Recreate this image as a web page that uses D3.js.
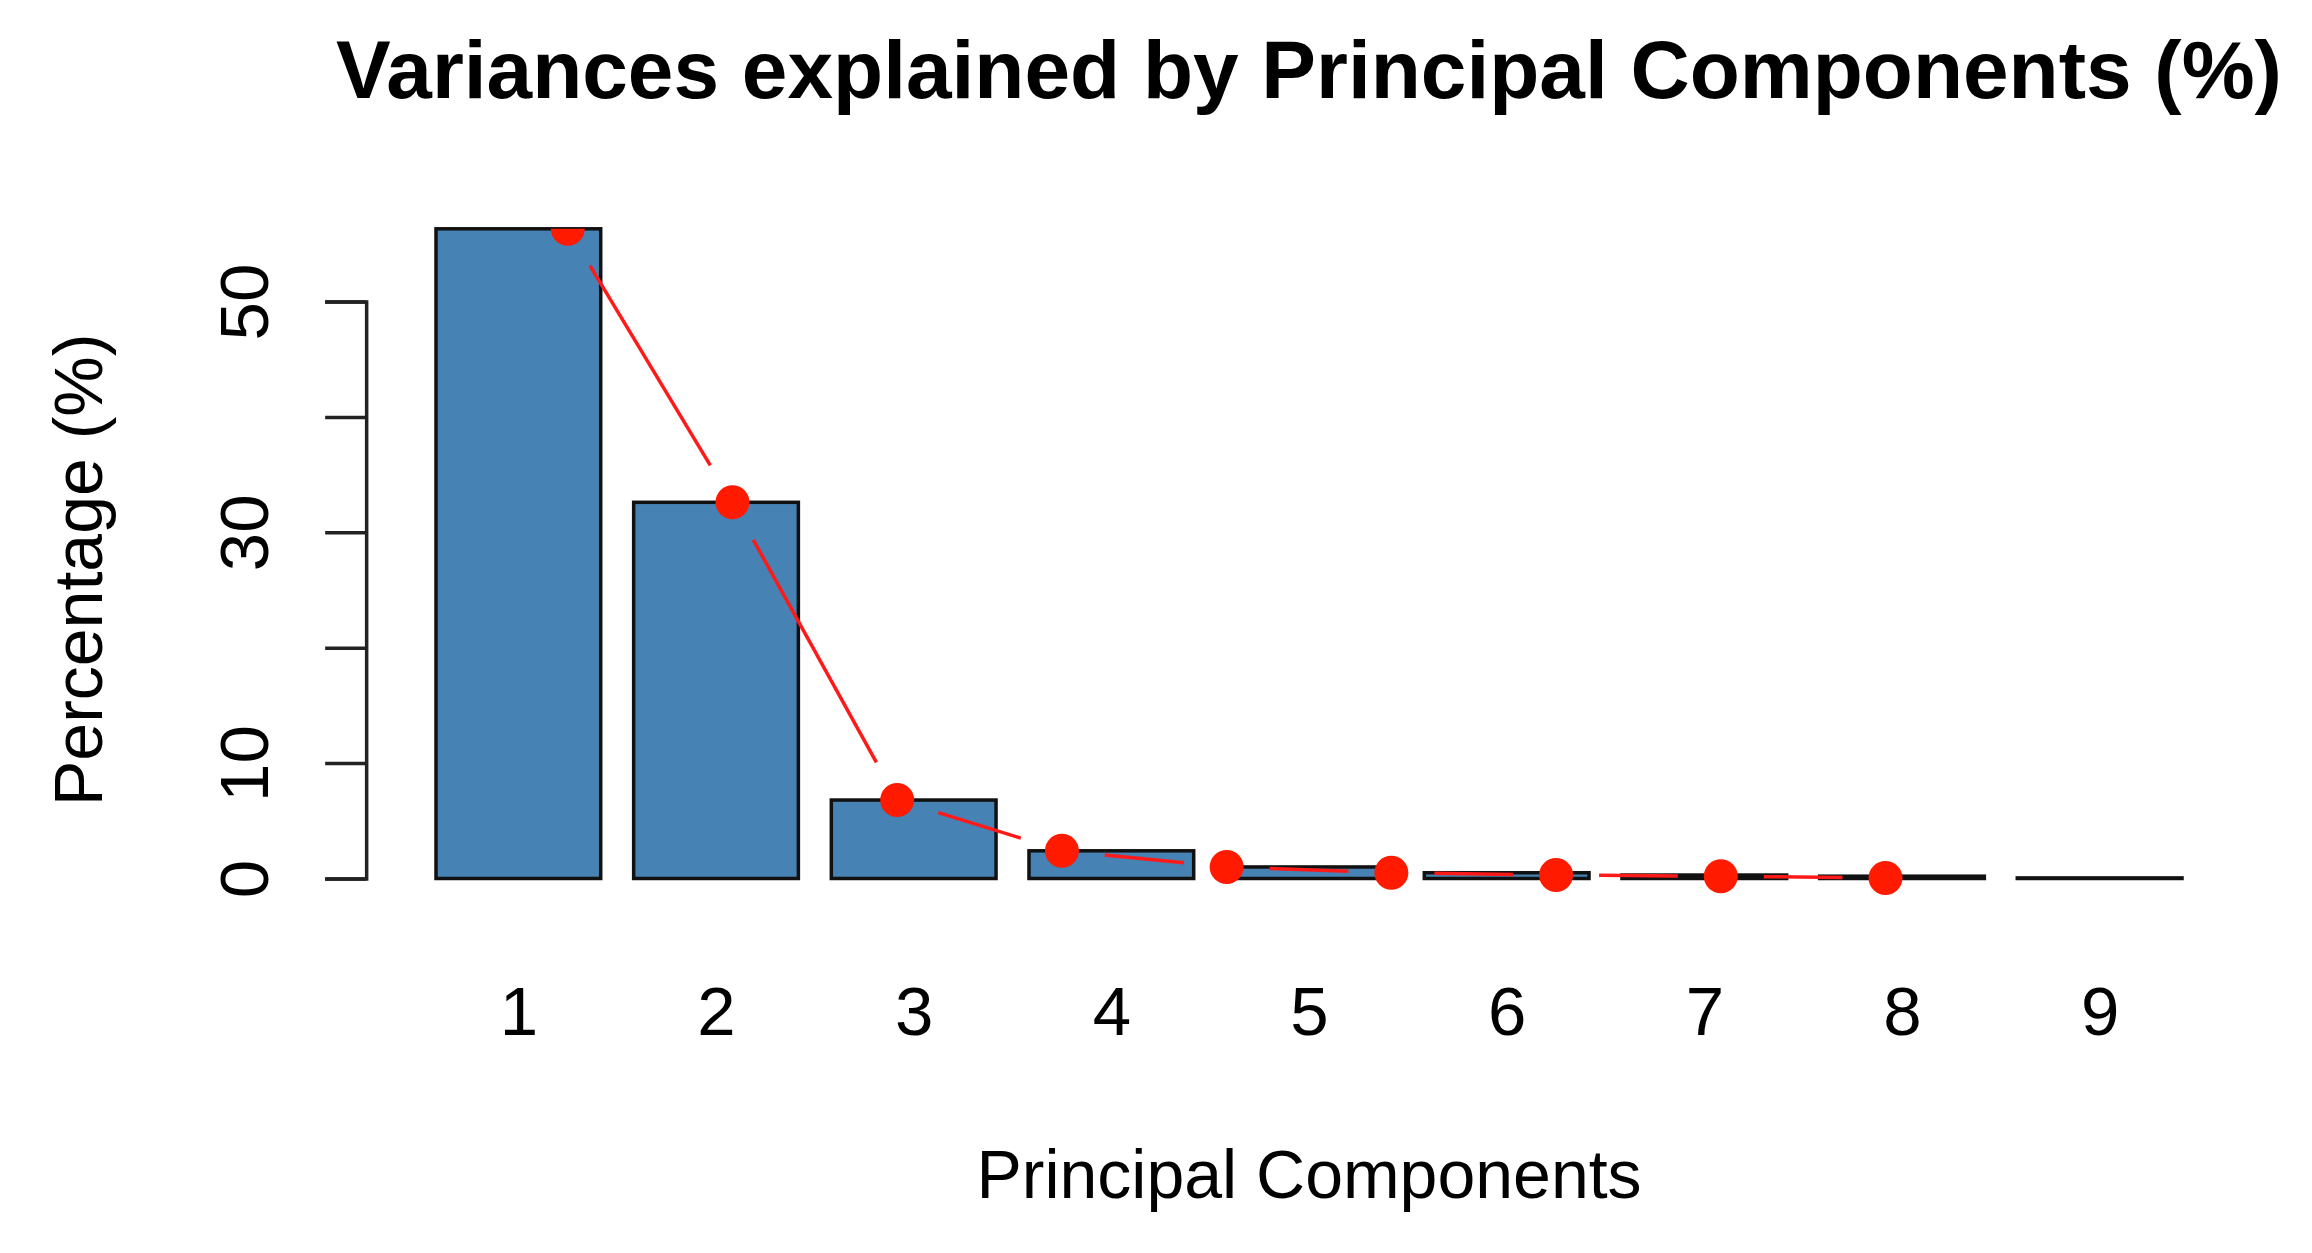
<!DOCTYPE html>
<html>
<head>
<meta charset="utf-8">
<script src="https://cdn.jsdelivr.net/npm/d3@7"></script>
<style>
  html, body { margin: 0; padding: 0; background: #fff; }
  svg text { font-family: "Liberation Sans", Arial, sans-serif; fill: #000; }
</style>
</head>
<body>
<div id="chart"></div>
<script>
// data
const components = ["1", "2", "3", "4", "5", "6", "7", "8", "9"];
const variancePct = [56.3, 32.6, 6.8, 2.4, 1.0, 0.5, 0.3, 0.2, 0.05];
const yTicks = [0, 10, 20, 30, 40, 50];
const yTickLabels = ["0", "10", "", "30", "", "50"];

function drawChart() {
  const W = 2312, H = 1253;

  d3.select("#chart").selectAll("*").remove();

  const svg = d3.select("#chart")
    .append("svg")
    .attr("width", W)
    .attr("height", H);

  // barplot coordinates: width 1, space 0.2 -> bar i spans [0.2+1.2i, 1.2+1.2i]
  const x = d3.scaleLinear()
    .domain([0.2, 10.8])
    .range([436, 2182]);

  const y = d3.scaleLinear()
    .domain([0, 50])
    .range([878.5, 301.5]);

  const plotLeft = x(-0.224), plotRight = x(11.224);
  const plotTop = y(56.3), plotBottom = y(-2.8);
  const midX = (plotLeft + plotRight) / 2;

  const data = variancePct.map((v, i) => ({
    name: components[i],
    value: v,
    left: 0.2 + 1.2 * i,
    mid: 0.7 + 1.2 * i,
    pos: i + 1   // the line was plotted at 1..n, not at bar centres
  }));

  // clip for the points (R clips them to the plot region)
  svg.append("defs").append("clipPath")
    .attr("id", "plotclip")
    .append("rect")
    .attr("x", plotLeft)
    .attr("y", plotTop)
    .attr("width", plotRight - plotLeft)
    .attr("height", plotBottom - plotTop);

  // bars
  svg.append("g")
    .selectAll("rect")
    .data(data)
    .enter()
    .append("rect")
    .attr("x", d => x(d.left))
    .attr("y", d => y(d.value))
    .attr("width", d => x(d.left + 1) - x(d.left))
    .attr("height", d => y(0) - y(d.value))
    .attr("fill", "steelblue")
    .attr("stroke", "#111")
    .attr("stroke-width", 3.5);

  // y axis
  const gY = svg.append("g")
    .attr("transform", `translate(${plotLeft},0)`)
    .call(d3.axisLeft(y)
      .tickValues(yTicks)
      .tickSize(41)
      .tickSizeOuter(41)
      .tickFormat((d, i) => yTickLabels[i]));
  gY.select(".domain").attr("stroke", "#222").attr("stroke-width", 3.5);
  gY.selectAll(".tick line").attr("stroke", "#222").attr("stroke-width", 3.5);
  gY.selectAll(".tick text")
    .attr("transform", "rotate(-90)")
    .attr("x", 0)
    .attr("y", -(plotLeft - 268))
    .attr("dy", 0)
    .attr("text-anchor", "middle")
    .style("font-family", "'Liberation Sans', Arial, sans-serif")
    .style("font-size", "69px")
    .attr("fill", "#000");

  // x labels under bar centres (no axis line)
  const gX = svg.append("g")
    .attr("transform", `translate(0,1035)`)
    .call(d3.axisBottom(x)
      .tickValues(data.map(d => d.mid))
      .tickSize(0)
      .tickFormat((d, i) => components[i]));
  gX.select(".domain").remove();
  gX.selectAll(".tick text")
    .attr("y", 0)
    .attr("dy", 0)
    .style("font-family", "'Liberation Sans', Arial, sans-serif")
    .style("font-size", "69px")
    .attr("fill", "#000");

  // red line, type = "b": segments stop short of the points
  const gap = 43;
  const segs = [];
  for (let i = 0; i < data.length - 1; i++) {
    const x1 = x(data[i].pos), y1 = y(data[i].value);
    const x2 = x(data[i + 1].pos), y2 = y(data[i + 1].value);
    const len = Math.hypot(x2 - x1, y2 - y1);
    if (len <= 2 * gap) continue;
    const ux = (x2 - x1) / len, uy = (y2 - y1) / len;
    segs.push({ x1: x1 + ux * gap, y1: y1 + uy * gap, x2: x2 - ux * gap, y2: y2 - uy * gap });
  }
  svg.append("g")
    .attr("clip-path", "url(#plotclip)")
    .selectAll("line")
    .data(segs)
    .enter()
    .append("line")
    .attr("x1", d => d.x1).attr("y1", d => d.y1)
    .attr("x2", d => d.x2).attr("y2", d => d.y2)
    .attr("stroke", "#ff1a1a")
    .attr("stroke-width", 3.5);

  // points
  svg.append("g")
    .attr("clip-path", "url(#plotclip)")
    .selectAll("circle")
    .data(data)
    .enter()
    .append("circle")
    .attr("cx", d => x(d.pos))
    .attr("cy", d => y(d.value))
    .attr("r", 17)
    .attr("fill", "#ff1a00");

  // title
  svg.append("text")
    .attr("x", midX)
    .attr("y", 98)
    .attr("text-anchor", "middle")
    .style("font-size", "82px")
    .style("font-weight", "bold")
    .text("Variances explained by Principal Components (%)");

  // axis titles
  svg.append("text")
    .attr("x", midX)
    .attr("y", 1198)
    .attr("text-anchor", "middle")
    .style("font-size", "68px")
    .text("Principal Components");

  svg.append("text")
    .attr("transform", `translate(102,${(plotTop + plotBottom) / 2}) rotate(-90)`)
    .attr("text-anchor", "middle")
    .style("font-size", "68px")
    .text("Percentage (%)");
}

drawChart();
</script>
</body>
</html>
